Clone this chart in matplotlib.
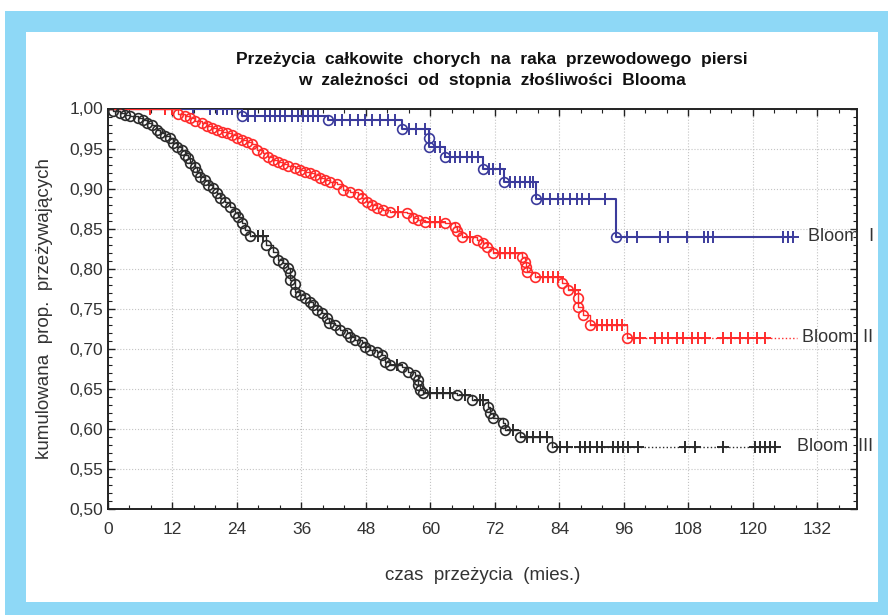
import numpy as np
import matplotlib.pyplot as plt
from matplotlib.patches import Rectangle
from matplotlib.ticker import MultipleLocator

plt.rcParams['font.family'] = ['Liberation Sans', 'DejaVu Sans']

# Bloom I - zdarzenia (czas, przezycie) i obserwacje ucięte
b1_event_t = [24.9, 40.9, 54.7, 59.7, 59.7, 62.7, 69.7, 73.7, 79.6, 94.6]
b1_event_s = [0.991, 0.986, 0.975, 0.963, 0.952, 0.939, 0.924, 0.908, 0.887, 0.840]
b1_cens_t = [15.8, 19.0, 20.3, 21.4, 22.1, 23.1,
             26.0, 27.3, 29.2, 30.1, 31.1, 32.0, 32.9, 34.2, 35.3, 36.3, 37.2, 38.1, 39.1,
             42.2, 43.5, 45.0, 46.5, 47.8, 49.1, 50.6, 52.1, 53.4,
             56.0, 57.3, 59.0, 60.8, 61.8,
             63.6, 64.6, 65.5, 66.7, 67.7, 68.9, 70.8, 71.7, 72.9,
             74.8, 75.7, 76.7, 77.6, 78.5, 79.1,
             81.0, 82.2, 83.8, 84.7, 86.0, 87.2, 88.1, 89.4, 92.5,
             96.5, 98.4, 102.7, 104.2, 107.7, 110.8, 111.7, 112.6, 125.6, 126.5, 127.5]

# Bloom II
b2_event_t = [13.0, 14.3, 15.3, 16.2, 17.5, 18.4, 19.3, 20.3, 21.2, 22.1, 23.1, 24.0, 24.9,
              25.9, 26.8, 27.7, 28.8, 29.8, 30.7, 31.6, 32.6, 33.5, 34.8, 35.7, 36.7, 37.6,
              38.5, 39.4, 40.4, 41.3, 42.6, 43.7, 45.0, 46.5, 47.3, 48.2, 49.1, 50.0, 51.2,
              52.5, 55.6, 56.7, 57.7, 59.0, 62.7, 64.6, 64.9, 65.9, 68.7, 69.8, 70.5, 71.6,
              77.0, 77.6, 77.8, 78.0, 79.4, 84.5, 85.6, 87.4, 87.4, 88.4, 89.7, 96.6]
b2_event_s = [0.993, 0.991, 0.988, 0.984, 0.982, 0.978, 0.976, 0.973, 0.971, 0.969, 0.967,
              0.963, 0.961, 0.958, 0.956, 0.948, 0.944, 0.939, 0.936, 0.933, 0.931, 0.928,
              0.926, 0.923, 0.921, 0.919, 0.917, 0.913, 0.911, 0.908, 0.906, 0.898, 0.896,
              0.893, 0.888, 0.883, 0.880, 0.876, 0.873, 0.871, 0.870, 0.863, 0.861, 0.858,
              0.857, 0.852, 0.847, 0.840, 0.836, 0.832, 0.827, 0.820, 0.815, 0.808, 0.802,
              0.796, 0.790, 0.782, 0.773, 0.763, 0.752, 0.742, 0.730, 0.714]
b2_cens_t = [7.8, 10.6, 11.9, 54.0, 59.9, 60.8, 61.8, 67.3, 72.9, 73.9, 74.8, 75.7,
             80.9, 81.9, 82.8, 83.7, 86.9, 91.0, 91.9, 92.8, 93.8, 94.7, 95.6,
             97.8, 99.0, 101.8, 103.0, 104.2, 105.8, 107.0, 108.6, 109.8, 111.1,
             114.5, 116.0, 117.6, 119.1, 120.7, 122.2]
b2_end = 128.2

# Bloom III
b3_event_t = [0.9, 2.2, 3.2, 4.1, 5.6, 6.5, 7.3, 8.2, 9.1, 9.7, 10.6, 11.5, 12.1, 12.8, 13.8,
              14.3, 14.9, 15.3, 16.2, 16.6, 17.1, 18.0, 18.6, 19.5, 20.3, 20.8, 21.8, 22.7,
              23.6, 24.2, 24.9, 25.5, 26.4, 29.4, 30.7, 31.6, 32.6, 33.5, 33.9, 33.9, 34.8,
              34.8, 35.7, 36.7, 37.6, 38.1, 38.9, 39.8, 40.7, 41.1, 42.2, 43.2, 44.5, 45.0,
              46.0, 47.2, 47.8, 48.7, 50.0, 51.0, 51.5, 52.5, 54.7, 55.8, 57.1, 57.7, 57.7,
              58.0, 58.6, 64.9, 67.7, 70.7, 71.1, 71.6, 73.5, 73.9, 76.7, 82.6]
b3_event_s = [0.997, 0.994, 0.992, 0.991, 0.988, 0.986, 0.982, 0.979, 0.973, 0.969, 0.966,
              0.963, 0.957, 0.952, 0.948, 0.942, 0.938, 0.932, 0.927, 0.921, 0.914, 0.911,
              0.905, 0.901, 0.895, 0.888, 0.883, 0.877, 0.870, 0.864, 0.857, 0.848, 0.841,
              0.830, 0.821, 0.811, 0.807, 0.801, 0.795, 0.786, 0.781, 0.771, 0.767, 0.763,
              0.758, 0.755, 0.748, 0.745, 0.738, 0.732, 0.730, 0.723, 0.720, 0.715, 0.711,
              0.709, 0.702, 0.699, 0.696, 0.692, 0.684, 0.680, 0.677, 0.671, 0.667, 0.661,
              0.655, 0.649, 0.645, 0.642, 0.636, 0.627, 0.620, 0.614, 0.607, 0.599, 0.590,
              0.578]
b3_cens_t = [27.9, 28.8, 53.8, 59.9, 61.2, 62.3, 63.6, 66.4, 69.2, 69.8, 75.3,
             78.0, 79.1, 80.4, 81.7,
             84.1, 85.4, 87.8, 88.7, 89.7, 91.0, 91.9, 94.0, 94.9, 95.8, 96.7, 98.6,
             107.3, 109.2, 114.4, 120.4, 121.3, 122.2, 123.2, 124.1]

group_names = ['Bloom  I', 'Bloom  II', 'Bloom  III']
x_ticks = list(range(0, 133, 12))
y_ticks = [0.50, 0.55, 0.60, 0.65, 0.70, 0.75, 0.80, 0.85, 0.90, 0.95, 1.00]
y_tick_labels = ['0,50', '0,55', '0,60', '0,65', '0,70', '0,75', '0,80', '0,85', '0,90', '0,95', '1,00']


def draw_group(ax, ev_t, ev_s, cens_t, color, lw, end_t, dotted_tail):
    xs = np.array([0.0] + ev_t)
    ys = np.array([1.0] + ev_s)
    if dotted_tail:
        ax.step(xs, ys, where='post', color=color, lw=lw, zorder=3)
        ax.plot([xs[-1], end_t], [ys[-1], ys[-1]], color=color, lw=lw, ls=':', zorder=3)
    else:
        ax.step(np.append(xs, end_t), np.append(ys, ys[-1]), where='post',
                color=color, lw=lw, zorder=3)
    ax.plot(ev_t, ev_s, 'o', ms=7, mfc='none', mec=color, mew=1.2, zorder=4)
    idx = np.searchsorted(xs, cens_t, side='right') - 1
    ax.plot(cens_t, ys[idx], '+', ms=9, color=color, mew=1.4, zorder=4)
    return ys[-1]


fig = plt.figure(figsize=(8.88, 6.15), dpi=100)
fig.patches.append(Rectangle((5 / 888, 0), 1, 1 - 11 / 615, transform=fig.transFigure,
                             facecolor='#8ed8f6', edgecolor='none', zorder=-2))
fig.patches.append(Rectangle((26 / 888, 13 / 615), 852 / 888, 570 / 615, transform=fig.transFigure,
                             facecolor='white', edgecolor='none', zorder=-1))

ax = fig.add_axes([108 / 888, 1 - 509 / 615, 749 / 888, 400.5 / 615])
ax.set_facecolor('white')

s1 = draw_group(ax, b1_event_t, b1_event_s, b1_cens_t, '#3b3b9c', 1.5, b1_cens_t[-1], False)
s2 = draw_group(ax, b2_event_t, b2_event_s, b2_cens_t, '#ff2b2b', 1.0, b2_end, True)
s3 = draw_group(ax, b3_event_t, b3_event_s, b3_cens_t, '#2b2b2b', 1.0, b3_cens_t[-1], True)

ax.text(130.2, s1, group_names[0], ha='left', va='center', fontsize=13, color='#333333')
ax.text(129.1, s2, group_names[1], ha='left', va='center', fontsize=13, color='#333333')
ax.text(128.2, s3, group_names[2], ha='left', va='center', fontsize=13, color='#333333')

ax.set_xlim(0, 139.35)
ax.set_ylim(0.5, 1.0)
ax.set_xticks(x_ticks)
ax.set_xticklabels([str(t) for t in x_ticks])
ax.set_yticks(y_ticks)
ax.set_yticklabels(y_tick_labels)
ax.xaxis.set_minor_locator(MultipleLocator(4))
ax.yaxis.set_minor_locator(MultipleLocator(0.01))
ax.tick_params(which='both', direction='in', top=True, right=True, color='#222222')
ax.tick_params(which='major', length=5, width=1.0, labelsize=12.5, labelcolor='#333333')
ax.tick_params(which='minor', length=3, width=0.8)
ax.tick_params(axis='x', which='major', pad=9)
ax.grid(True, which='major', ls=':', lw=0.8, color='#c4c4c4', zorder=0)
for sp in ax.spines.values():
    sp.set_linewidth(1.4)
    sp.set_color('#222222')

ax.set_xlabel('czas  przeżycia  (mies.)', fontsize=13.5, color='#333333', labelpad=22)
ax.set_ylabel('kumulowana  prop.  przeżywających', fontsize=13.5, color='#333333', labelpad=12)

fig.text(0.554, 0.886, 'Przeżycia  całkowite  chorych  na  raka  przewodowego  piersi\n'
         'w  zależności  od  stopnia  złośliwości  Blooma',
         ha='center', va='center', fontsize=12.5, fontweight='bold', color='#111111',
         linespacing=1.55)

fig.savefig('out.png', dpi=100)
